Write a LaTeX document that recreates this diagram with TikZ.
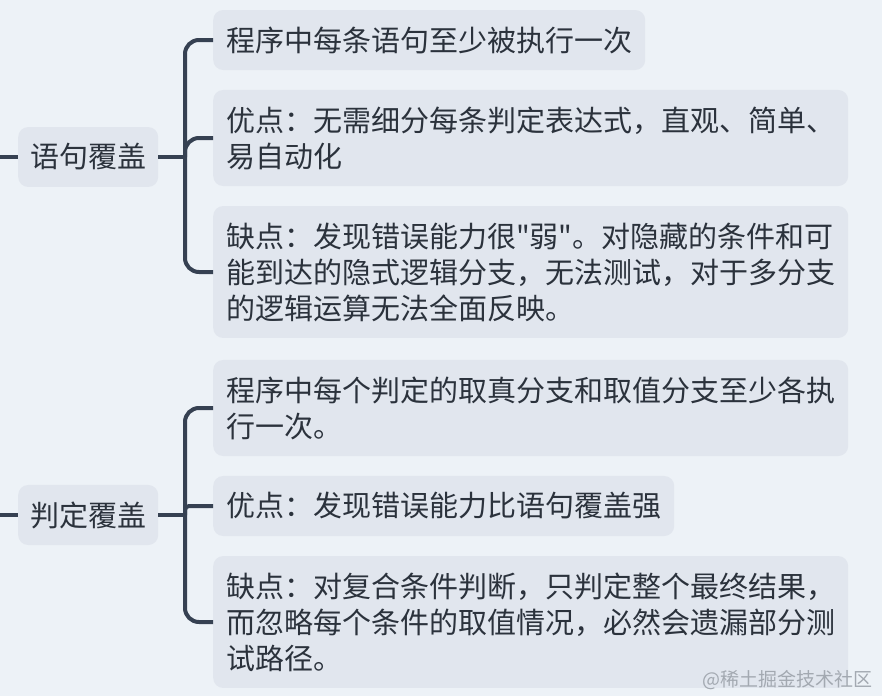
\documentclass[tikz,border=0pt]{standalone}
\usepackage{fontspec}
\usepackage{tikz}
\newfontfamily\cjk{Noto Sans CJK SC}
\definecolor{bgpane}{HTML}{EDF2F7}
\definecolor{boxfill}{HTML}{E1E6EE}
\definecolor{inkline}{HTML}{364152}
\definecolor{inktext}{HTML}{2B323C}
\definecolor{markgray}{HTML}{A3A9B1}

\begin{document}
\begin{tikzpicture}[
    x=1pt, y=-1pt,
    topic/.style={fill=boxfill, rounded corners=10pt, text=inktext, font=\cjk\fontsize{29}{36}\selectfont, inner xsep=12pt, inner ysep=16.5pt, anchor=west},
    leaf/.style={topic, inner xsep=13pt, align=left},
    wideleaf/.style={leaf, text width=609pt},
    link/.style={draw=inkline, line width=4pt, rounded corners=14pt}
]
\useasboundingbox (0,0) rectangle (882,696);
\fill[bgpane] (0,0) rectangle (882,696);

% topics
\node[topic] (stmt) at (18,157) {语句覆盖};
\node[topic] (dec) at (18,515) {判定覆盖};

\node[leaf] (s1) at (213,40) {程序中每条语句至少被执行一次};
\node[wideleaf] (s2) at (213,138) {优点：无需细分每条判定表达式，直观、简单、\\易自动化};
\node[wideleaf] (s3) at (213,272) {缺点：发现错误能力很"弱"。对隐藏的条件和可\\能到达的隐式逻辑分支，无法测试，对于多分支\\的逻辑运算无法全面反映。};

\node[wideleaf] (d1) at (213,408) {程序中每个判定的取真分支和取值分支至少各执\\行一次。};
\node[leaf] (d2) at (213,506) {优点：发现错误能力比语句覆盖强};
\node[wideleaf] (d3) at (213,622) {缺点：对复合条件判断，只判定整个最终结果，\\而忽略每个条件的取值情况，必然会遗漏部分测\\试路径。};

% brackets
\coordinate (in1) at (0,157);
\coordinate (in2) at (0,515);
\coordinate (j1) at (185,157);
\coordinate (j2) at (185,515);

\draw[link] (in1) -- (stmt.west);
\draw[link] (in2) -- (dec.west);
\draw[link] (stmt.east) -- (j1);
\draw[link] (dec.east) -- (j2);
\foreach \c in {s1,s2,s3}
    \draw[link] (j1) |- (\c.west);
\foreach \c in {d1,d3}
    \draw[link] (j2) |- (\c.west);
\draw[link, rounded corners=4pt] (j2) |- (d2.west);

\node[font=\cjk\fontsize{19}{19}\selectfont, text=markgray, anchor=east] (mark) at (876,680) {@稀土掘金技术社区};
\end{tikzpicture}
\end{document}
